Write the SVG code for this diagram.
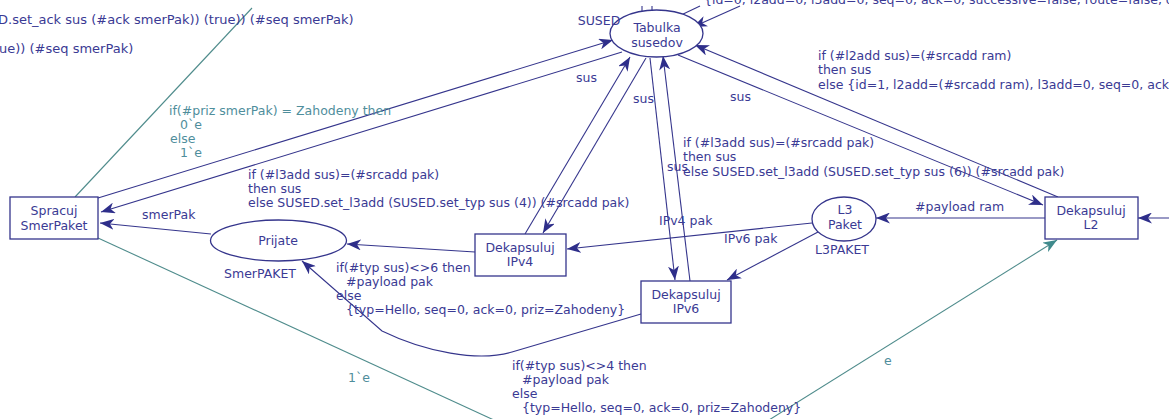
<svg xmlns="http://www.w3.org/2000/svg" width="1169" height="419" viewBox="0 0 1169 419">
  <style>
    text { font-family: "DejaVu Sans", Verdana, sans-serif; font-size: 12.5px; fill: #3a3a94; }
    .node text, text.c { text-anchor: middle; }
    text.big { font-size: 13px; }
    .teal { fill: #4f8e9c; }
    .shape { fill: #ffffff; stroke: #35358c; stroke-width: 1.3; }
    .arc { fill: none; stroke: #35358c; stroke-width: 1.1; }
    .arc.a { marker-end: url(#head); }
    .ctl { fill: none; stroke: #4f8c8c; stroke-width: 1.1; }
    .ctl.a { marker-end: url(#headTeal); }
  </style>
  <defs>
    <marker id="head" markerUnits="userSpaceOnUse" markerWidth="14" markerHeight="11" refX="14" refY="5.5" orient="auto">
      <path d="M0,0 L14,5.5 L0,11 L4,5.5 Z" fill="#2e2e8a"/>
    </marker>
    <marker id="headTeal" markerUnits="userSpaceOnUse" markerWidth="14" markerHeight="11" refX="14" refY="5.5" orient="auto">
      <path d="M0,0 L14,5.5 L0,11 L4,5.5 Z" fill="#3f8a8c"/>
    </marker>
  </defs>

  <rect width="1169" height="419" fill="#ffffff"/>

  <!-- connectors -->
  <g id="connectors">
    <!-- Spracuj SmerPaket <-> Tabulka susedov -->
    <line class="arc a" x1="98" y1="198" x2="613" y2="40"/>
    <line class="arc a" x1="622" y1="52" x2="101" y2="212"/>
    <!-- Prijate -> Spracuj SmerPaket -->
    <line class="arc a" x1="211" y1="234" x2="100" y2="223"/>
    <!-- Dekapsuluj IPv4 -> Prijate -->
    <line class="arc a" x1="475" y1="252" x2="347" y2="244"/>
    <!-- Dekapsuluj IPv6 -> Prijate -->
    <path class="arc a" d="M641,314 L512,352 C478,362 425,352 382,331 L302,261"/>
    <!-- Dekapsuluj IPv4 <-> Tabulka susedov -->
    <line class="arc a" x1="525" y1="234" x2="630" y2="57"/>
    <line class="arc a" x1="646" y1="58" x2="543" y2="233"/>
    <!-- Dekapsuluj IPv6 <-> Tabulka susedov -->
    <line class="arc a" x1="650" y1="58" x2="675" y2="280"/>
    <line class="arc a" x1="690" y1="281" x2="663" y2="56"/>
    <!-- Dekapsuluj L2 <-> Tabulka susedov -->
    <line class="arc a" x1="678" y1="55" x2="1043" y2="205"/>
    <line class="arc a" x1="1058" y1="197" x2="695" y2="45"/>
    <!-- L3 Paket -> Dekapsuluj IPv4 / IPv6 -->
    <line class="arc a" x1="812" y1="223" x2="567" y2="249"/>
    <line class="arc a" x1="818" y1="232" x2="727" y2="280"/>
    <!-- Dekapsuluj L2 -> L3 Paket -->
    <line class="arc a" x1="1045" y1="218" x2="876" y2="218"/>
    <!-- incoming frame -> Dekapsuluj L2 -->
    <line class="arc a" x1="1175" y1="218" x2="1138" y2="218"/>
    <!-- arcs to and from the upper part of the net -->
    <line class="arc a" x1="740" y1="6" x2="693" y2="27"/>
    <line class="arc" x1="679" y1="16" x2="700" y2="6"/>
    <line class="arc" x1="642" y1="11" x2="642" y2="6"/>
    <line class="arc" x1="652" y1="10" x2="652" y2="6"/>
    <!-- control arcs -->
    <line class="ctl" x1="75" y1="197" x2="252" y2="8"/>
    <line class="ctl" x1="98" y1="238" x2="570" y2="455"/>
    <line class="ctl a" x1="745" y1="435" x2="1057" y2="240"/>
  </g>

  <!-- arc inscriptions -->
  <g id="inscriptions">
    <text class="big" x="-2" y="24">D.set_ack sus (#ack smerPak)) (true)) (#seq smerPak)</text>
    <text class="big" x="-1" y="53">ue)) (#seq smerPak)</text>
    <text x="704" y="4">{id=0, l2add=0, l3add=0, seq=0, ack=0, successive=false, route=false, d</text>

    <text class="teal" x="169" y="115">if(#priz smerPak) = Zahodeny then</text>
    <text class="teal" x="180" y="129">0`e</text>
    <text class="teal" x="170" y="143">else</text>
    <text class="teal" x="180" y="157">1`e</text>

    <text x="576" y="82">sus</text>
    <text x="633" y="103">sus</text>
    <text x="730" y="101">sus</text>
    <text x="667" y="171">sus</text>

    <text x="818" y="60">if (#l2add sus)=(#srcadd ram)</text>
    <text x="818" y="74">then sus</text>
    <text x="818" y="89">else {id=1, l2add=(#srcadd ram), l3add=0, seq=0, ack=0,</text>

    <text x="683" y="147">if (#l3add sus)=(#srcadd pak)</text>
    <text x="683" y="161">then sus</text>
    <text x="683" y="176">else SUSED.set_l3add (SUSED.set_typ sus (6)) (#srcadd pak)</text>

    <text x="248" y="179">if (#l3add sus)=(#srcadd pak)</text>
    <text x="248" y="193">then sus</text>
    <text x="248" y="207">else SUSED.set_l3add (SUSED.set_typ sus (4)) (#srcadd pak)</text>

    <text x="142" y="219">smerPak</text>
    <text x="915" y="211">#payload ram</text>
    <text x="659" y="225">IPv4 pak</text>
    <text x="724" y="243">IPv6 pak</text>

    <text x="336" y="272">if(#typ sus)&lt;&gt;6 then</text>
    <text x="346" y="286">#payload pak</text>
    <text x="336" y="300">else</text>
    <text x="346" y="314">{typ=Hello, seq=0, ack=0, priz=Zahodeny}</text>

    <text x="512" y="370">if(#typ sus)&lt;&gt;4 then</text>
    <text x="522" y="384">#payload pak</text>
    <text x="512" y="398">else</text>
    <text x="522" y="412">{typ=Hello, seq=0, ack=0, priz=Zahodeny}</text>

    <text class="teal" x="348" y="382">1`e</text>
    <text class="teal" x="884" y="365">e</text>
  </g>

  <!-- places -->
  <g id="tabulka-susedov" class="node">
    <ellipse class="shape" cx="656.5" cy="33.5" rx="46.5" ry="23.5"/>
    <text x="657" y="32">Tabulka</text>
    <text x="657" y="47">susedov</text>
    <text x="599" y="25">SUSED</text>
  </g>
  <g id="prijate" class="node">
    <ellipse class="shape" cx="278.5" cy="240.5" rx="68" ry="20.5"/>
    <text x="278" y="245">Prijate</text>
    <text x="260" y="278">SmerPAKET</text>
  </g>
  <g id="l3-paket" class="node">
    <ellipse class="shape" cx="844" cy="219" rx="32" ry="22"/>
    <text x="845" y="214">L3</text>
    <text x="845" y="229">Paket</text>
    <text x="842" y="254">L3PAKET</text>
  </g>

  <!-- transitions -->
  <g id="spracuj-smerpaket" class="node">
    <rect class="shape" x="10" y="197" width="88" height="42"/>
    <text x="54" y="215">Spracuj</text>
    <text x="54" y="230">SmerPaket</text>
  </g>
  <g id="dekapsuluj-ipv4" class="node">
    <rect class="shape" x="475" y="234" width="91" height="42"/>
    <text x="520" y="252">Dekapsuluj</text>
    <text x="520" y="266">IPv4</text>
  </g>
  <g id="dekapsuluj-ipv6" class="node">
    <rect class="shape" x="641" y="281" width="90" height="42"/>
    <text x="686" y="299">Dekapsuluj</text>
    <text x="686" y="313">IPv6</text>
  </g>
  <g id="dekapsuluj-l2" class="node">
    <rect class="shape" x="1045" y="197" width="93" height="42"/>
    <text x="1091" y="215">Dekapsuluj</text>
    <text x="1091" y="229">L2</text>
  </g>
</svg>
